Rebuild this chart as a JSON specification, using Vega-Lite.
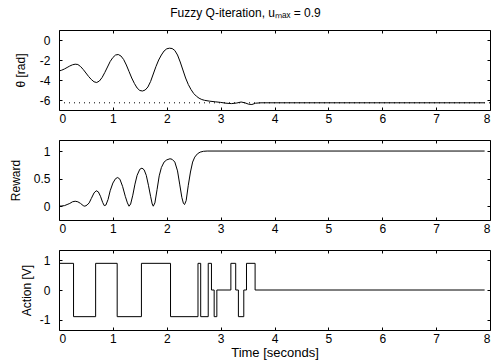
{
  "$schema": "https://vega.github.io/schema/vega-lite/v6.json",
  "background": "white",
  "padding": {"left": 8, "top": 6, "right": 0, "bottom": 0},
  "bounds": "flush",
  "spacing": 30,
  "config": {
    "view": {"stroke": "black", "strokeWidth": 1},
    "font": "Liberation Sans",
    "axis": {
      "labelFont": "Liberation Sans", "labelFontSize": 12, "labelColor": "black",
      "titleFont": "Liberation Sans", "titleFontSize": 12, "titleFontWeight": "normal", "titleColor": "black",
      "domain": false, "grid": false, "tickColor": "black", "tickSize": -3, "labelPadding": 6
    },
    "axisY": {"labelPadding": 12}
  },
  "datasets": {
    "theta": [
      {"t": 0.00, "v": -3.10}, {"t": 0.05, "v": -3.02}, {"t": 0.10, "v": -2.90}, {"t": 0.15, "v": -2.75},
      {"t": 0.20, "v": -2.60}, {"t": 0.25, "v": -2.48}, {"t": 0.30, "v": -2.42}, {"t": 0.35, "v": -2.45},
      {"t": 0.40, "v": -2.65}, {"t": 0.45, "v": -2.95}, {"t": 0.50, "v": -3.30}, {"t": 0.55, "v": -3.65},
      {"t": 0.60, "v": -3.95}, {"t": 0.65, "v": -4.18}, {"t": 0.70, "v": -4.25}, {"t": 0.75, "v": -4.10},
      {"t": 0.80, "v": -3.75}, {"t": 0.85, "v": -3.25}, {"t": 0.90, "v": -2.70}, {"t": 0.95, "v": -2.15},
      {"t": 1.00, "v": -1.75}, {"t": 1.05, "v": -1.50}, {"t": 1.10, "v": -1.45}, {"t": 1.15, "v": -1.60},
      {"t": 1.20, "v": -1.95}, {"t": 1.25, "v": -2.50}, {"t": 1.30, "v": -3.15}, {"t": 1.35, "v": -3.80},
      {"t": 1.40, "v": -4.35}, {"t": 1.45, "v": -4.80}, {"t": 1.50, "v": -5.05}, {"t": 1.55, "v": -5.10},
      {"t": 1.60, "v": -5.00}, {"t": 1.65, "v": -4.70}, {"t": 1.70, "v": -4.15}, {"t": 1.75, "v": -3.40},
      {"t": 1.80, "v": -2.65}, {"t": 1.85, "v": -2.00}, {"t": 1.90, "v": -1.50}, {"t": 1.95, "v": -1.10},
      {"t": 2.00, "v": -0.88}, {"t": 2.05, "v": -0.82}, {"t": 2.10, "v": -0.85}, {"t": 2.15, "v": -1.05},
      {"t": 2.20, "v": -1.50}, {"t": 2.25, "v": -2.20}, {"t": 2.30, "v": -3.00}, {"t": 2.35, "v": -3.80},
      {"t": 2.40, "v": -4.45}, {"t": 2.45, "v": -4.95}, {"t": 2.50, "v": -5.35}, {"t": 2.55, "v": -5.62},
      {"t": 2.60, "v": -5.82}, {"t": 2.65, "v": -5.95}, {"t": 2.70, "v": -6.03}, {"t": 2.80, "v": -6.12},
      {"t": 2.90, "v": -6.18}, {"t": 3.00, "v": -6.24}, {"t": 3.10, "v": -6.32}, {"t": 3.20, "v": -6.36},
      {"t": 3.30, "v": -6.30}, {"t": 3.38, "v": -6.20}, {"t": 3.45, "v": -6.28}, {"t": 3.52, "v": -6.42},
      {"t": 3.58, "v": -6.45}, {"t": 3.65, "v": -6.32}, {"t": 3.75, "v": -6.28}, {"t": 7.90, "v": -6.28}
    ],
    "target": [{"t0": 0, "t1": 8, "v": -6.28}],
    "reward": [
      {"t": 0.00, "v": 0.00}, {"t": 0.05, "v": 0.005}, {"t": 0.10, "v": 0.01}, {"t": 0.15, "v": 0.03},
      {"t": 0.20, "v": 0.05}, {"t": 0.25, "v": 0.08}, {"t": 0.30, "v": 0.09}, {"t": 0.35, "v": 0.08},
      {"t": 0.40, "v": 0.05}, {"t": 0.45, "v": 0.01}, {"t": 0.48, "v": 0.00}, {"t": 0.52, "v": 0.02},
      {"t": 0.56, "v": 0.06}, {"t": 0.60, "v": 0.14}, {"t": 0.65, "v": 0.24}, {"t": 0.69, "v": 0.28},
      {"t": 0.73, "v": 0.26}, {"t": 0.77, "v": 0.18}, {"t": 0.81, "v": 0.07}, {"t": 0.84, "v": 0.01},
      {"t": 0.87, "v": 0.02}, {"t": 0.91, "v": 0.12}, {"t": 0.95, "v": 0.28}, {"t": 1.00, "v": 0.42},
      {"t": 1.05, "v": 0.50}, {"t": 1.09, "v": 0.52}, {"t": 1.13, "v": 0.49}, {"t": 1.18, "v": 0.36},
      {"t": 1.23, "v": 0.18}, {"t": 1.27, "v": 0.06}, {"t": 1.30, "v": 0.00}, {"t": 1.33, "v": 0.04},
      {"t": 1.37, "v": 0.20}, {"t": 1.41, "v": 0.40}, {"t": 1.45, "v": 0.56}, {"t": 1.50, "v": 0.67},
      {"t": 1.54, "v": 0.69}, {"t": 1.58, "v": 0.66}, {"t": 1.62, "v": 0.56}, {"t": 1.66, "v": 0.38},
      {"t": 1.70, "v": 0.18}, {"t": 1.73, "v": 0.04}, {"t": 1.75, "v": 0.00}, {"t": 1.78, "v": 0.06},
      {"t": 1.82, "v": 0.30}, {"t": 1.86, "v": 0.55}, {"t": 1.90, "v": 0.70}, {"t": 1.95, "v": 0.80},
      {"t": 2.00, "v": 0.84}, {"t": 2.06, "v": 0.86}, {"t": 2.10, "v": 0.85}, {"t": 2.15, "v": 0.80},
      {"t": 2.20, "v": 0.64}, {"t": 2.24, "v": 0.40}, {"t": 2.28, "v": 0.16}, {"t": 2.31, "v": 0.05},
      {"t": 2.33, "v": 0.03}, {"t": 2.36, "v": 0.10}, {"t": 2.40, "v": 0.38}, {"t": 2.44, "v": 0.62},
      {"t": 2.48, "v": 0.80}, {"t": 2.52, "v": 0.89}, {"t": 2.57, "v": 0.95}, {"t": 2.62, "v": 0.98},
      {"t": 2.68, "v": 0.995}, {"t": 2.75, "v": 1.0}, {"t": 7.90, "v": 1.0}
    ],
    "action": [
      {"t": 0.00, "v": 0.9}, {"t": 0.27, "v": -0.9}, {"t": 0.68, "v": 0.9}, {"t": 1.08, "v": -0.9},
      {"t": 1.53, "v": 0.9}, {"t": 2.07, "v": -0.9}, {"t": 2.58, "v": 0.9}, {"t": 2.63, "v": -0.9},
      {"t": 2.77, "v": 0.9}, {"t": 2.83, "v": 0}, {"t": 2.88, "v": -0.9}, {"t": 2.93, "v": 0},
      {"t": 3.19, "v": 0.9}, {"t": 3.28, "v": 0}, {"t": 3.33, "v": -0.9}, {"t": 3.43, "v": 0},
      {"t": 3.48, "v": 0.9}, {"t": 3.64, "v": 0}, {"t": 7.90, "v": 0}
    ]
  },
  "vconcat": [
    {
      "width": 431, "height": 80,
      "title": {"text": "Fuzzy Q-iteration, uₘₐₓ = 0.9", "font": "Liberation Sans", "fontSize": 12, "fontWeight": "normal", "color": "black", "anchor": "middle", "dx": -29, "offset": 10},
      "layer": [
        {
          "data": {"name": "theta"},
          "mark": {"type": "line", "color": "black", "strokeWidth": 1},
          "encoding": {
            "x": {"field": "t", "type": "quantitative", "scale": {"domain": [0, 8], "nice": false},
                  "axis": {"values": [0, 1, 2, 3, 4, 5, 6, 7, 8], "title": null, "labelExpr": "toString(datum.value)"}},
            "y": {"field": "v", "type": "quantitative", "scale": {"domain": [-7, 1], "nice": false, "zero": false},
                  "axis": {"values": [-6, -4, -2, 0], "title": "θ [rad]", "titlePadding": 12, "labelExpr": "toString(datum.value)"}}
          }
        },
        {
          "data": {"name": "target"},
          "mark": {"type": "rule", "color": "black", "strokeWidth": 1, "strokeDash": [1, 4]},
          "encoding": {
            "x": {"field": "t0", "type": "quantitative", "axis": {"orient": "top", "labels": false, "title": null, "values": [0, 1, 2, 3, 4, 5, 6, 7, 8]}},
            "x2": {"field": "t1"},
            "y": {"field": "v", "type": "quantitative", "axis": {"orient": "right", "labels": false, "title": null, "values": [-6, -4, -2, 0]}}
          }
        }
      ],
      "resolve": {"axis": {"x": "independent", "y": "independent"}}
    },
    {
      "width": 431, "height": 80,
      "data": {"name": "reward"},
      "layer": [
        {
          "mark": {"type": "line", "color": "black", "strokeWidth": 1},
          "encoding": {
            "x": {"field": "t", "type": "quantitative", "scale": {"domain": [0, 8], "nice": false},
                  "axis": {"values": [0, 1, 2, 3, 4, 5, 6, 7, 8], "title": null, "labelExpr": "toString(datum.value)"}},
            "y": {"field": "v", "type": "quantitative", "scale": {"domain": [-0.25, 1.2], "nice": false, "zero": false},
                  "axis": {"values": [0, 0.5, 1], "title": "Reward", "titlePadding": 11, "labelExpr": "toString(datum.value)"}}
          }
        },
        {
          "mark": {"type": "line", "strokeOpacity": 0},
          "encoding": {
            "x": {"field": "t", "type": "quantitative", "axis": {"orient": "top", "labels": false, "title": null, "values": [0, 1, 2, 3, 4, 5, 6, 7, 8]}},
            "y": {"field": "v", "type": "quantitative", "axis": {"orient": "right", "labels": false, "title": null, "values": [0, 0.5, 1]}}
          }
        }
      ],
      "resolve": {"axis": {"x": "independent", "y": "independent"}}
    },
    {
      "width": 431, "height": 80,
      "data": {"name": "action"},
      "layer": [
        {
          "mark": {"type": "line", "color": "black", "strokeWidth": 1, "interpolate": "step-after"},
          "encoding": {
            "x": {"field": "t", "type": "quantitative", "scale": {"domain": [0, 8], "nice": false},
                  "axis": {"values": [0, 1, 2, 3, 4, 5, 6, 7, 8], "title": "Time [seconds]", "titleFontSize": 13, "titlePadding": 2, "labelExpr": "toString(datum.value)"}},
            "y": {"field": "v", "type": "quantitative", "scale": {"domain": [-1.35, 1.35], "nice": false, "zero": false},
                  "axis": {"values": [-1, 0, 1], "title": "Action [V]", "titlePadding": 6, "labelExpr": "toString(datum.value)"}}
          }
        },
        {
          "mark": {"type": "line", "strokeOpacity": 0},
          "encoding": {
            "x": {"field": "t", "type": "quantitative", "axis": {"orient": "top", "labels": false, "title": null, "values": [0, 1, 2, 3, 4, 5, 6, 7, 8]}},
            "y": {"field": "v", "type": "quantitative", "axis": {"orient": "right", "labels": false, "title": null, "values": [-1, 0, 1]}}
          }
        }
      ],
      "resolve": {"axis": {"x": "independent", "y": "independent"}}
    }
  ]
}
